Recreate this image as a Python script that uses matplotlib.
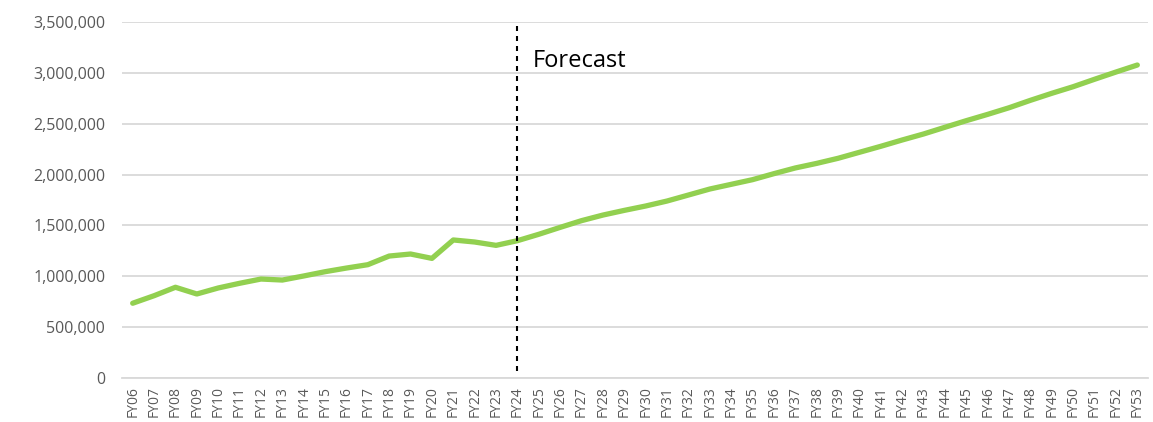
import matplotlib
matplotlib.use("Agg")
import matplotlib.pyplot as plt
from matplotlib.ticker import FuncFormatter, MultipleLocator

plt.rcParams['font.family'] = ['Open Sans', 'DejaVu Sans']

years = [f"FY{y:02d}" for y in range(6, 54)]
values = [
    735000, 809000, 892000, 826000, 885000, 931000, 973000, 963000, 1003000, 1045000,
    1081000, 1114000, 1199000, 1219000, 1176000, 1357000, 1337000, 1304000, 1350000,
    1413000, 1481000, 1547000, 1602000, 1648000, 1691000, 1740000, 1799000, 1858000,
    1904000, 1950000, 2009000, 2065000, 2110000, 2160000, 2219000, 2278000, 2340000,
    2399000, 2465000, 2530000, 2592000, 2657000, 2730000, 2799000, 2864000, 2937000,
    3008000, 3077000,
]
forecast_start = "FY24"
forecast_label = "Forecast"

fig = plt.figure(figsize=(11.53, 4.22), dpi=100)
ax = fig.add_axes([122 / 1153, 1 - 378 / 422, (1148 - 122) / 1153, (378 - 22) / 422])

x = list(range(len(years)))
ax.plot(x, values, color="#92D050", linewidth=3.8, solid_capstyle="round", zorder=3)

fx = years.index(forecast_start)
ax.axvline(fx, ymin=0.02, ymax=1.0, color="black", linewidth=1.5,
           linestyle=(0, (2.4, 2.4)), zorder=4)
ax.text(fx + 0.72, 3061000, forecast_label, fontsize=17, color="black",
        va="baseline", ha="left")

ax.set_xlim(-0.5, len(years) - 0.5)
ax.set_ylim(0, 3500000)
ax.yaxis.set_major_locator(MultipleLocator(500000))
ax.yaxis.set_major_formatter(FuncFormatter(lambda v, p: f"{int(v):,}"))
ax.set_xticks(x)
ax.set_xticklabels(years, rotation=90, fontsize=10, color="#595959")
ax.tick_params(axis="y", labelsize=11.5, colors="#595959", length=0, pad=12)
ax.tick_params(axis="x", length=0, pad=6)

ax.grid(axis="y", color="#D9D9D9", linewidth=1.3)
ax.set_axisbelow(True)
for side in ("top", "right", "left"):
    ax.spines[side].set_visible(False)
ax.spines["bottom"].set_color("#D9D9D9")
ax.spines["bottom"].set_linewidth(1.3)

fig.savefig("out.png", dpi=100)
